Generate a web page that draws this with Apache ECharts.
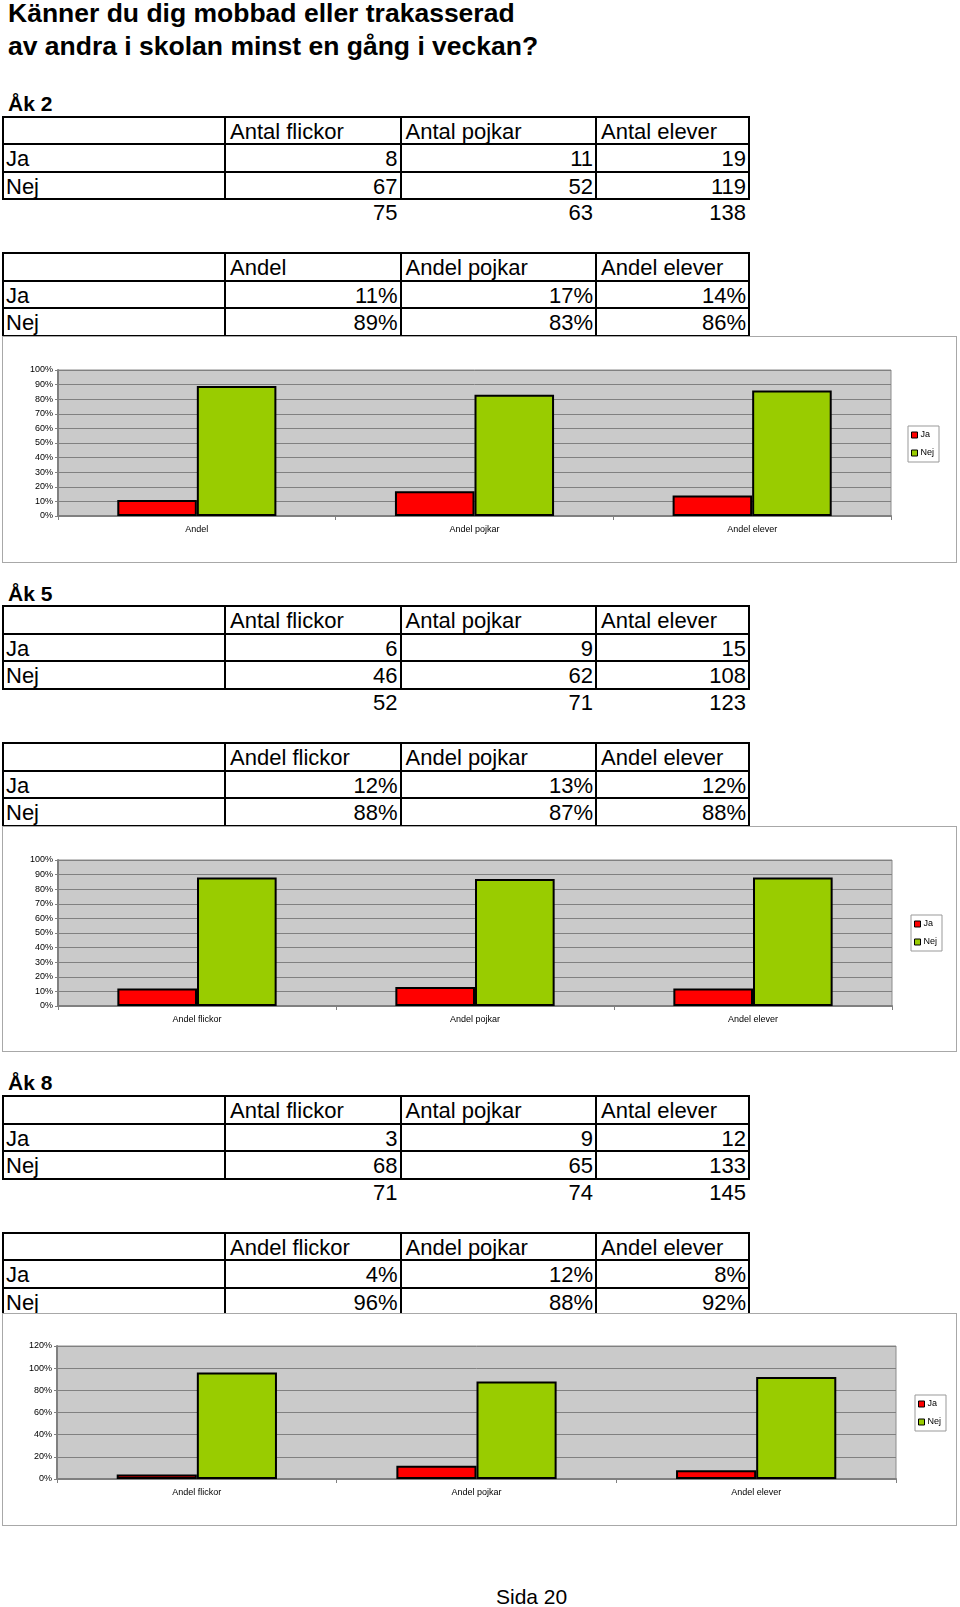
<!DOCTYPE html>
<html>
<head>
<meta charset="utf-8">
<script src="https://cdn.jsdelivr.net/npm/echarts@6/dist/echarts.min.js"></script>
<style>
  html, body { margin: 0; padding: 0; background: #fff; }
  body { width: 960px; height: 1607px; position: relative; overflow: hidden; font-family: 'Liberation Sans', Arial, sans-serif; color: #000; }
  .abs { position: absolute; white-space: nowrap; }
  .title { font-weight: bold; font-size: 26.5px; left: 8px; }
  .grade { font-weight: bold; font-size: 21px; left: 8px; }
  .cell { font-size: 22px; line-height: 27px; }
  .hl { position: absolute; background: #000; height: 2px; }
  .vl { position: absolute; background: #000; width: 2px; }
  .box { position: absolute; border: 1px solid #a8a8a8; box-sizing: border-box; pointer-events: none; }
  .chart { position: absolute; background: #fff; }
</style>
</head>
<body>
<div class="abs title" style="top:-2px;">Känner du dig mobbad eller trakasserad</div>
<div class="abs title" style="top:31px;">av andra i skolan minst en gång i veckan?</div>
<div class="abs" style="left:496px; top:1585px; font-size:21px;">Sida 20</div>
<script>
// ---- data ----
const grades = ['Åk 2', 'Åk 5', 'Åk 8'];
const rowLabels = ['Ja', 'Nej'];
const seriesNames = ['Ja', 'Nej'];
const countHeaders = ['Antal flickor', 'Antal pojkar', 'Antal elever'];
const shareHeadersAk2 = ['Andel', 'Andel pojkar', 'Andel elever'];
const shareHeaders = ['Andel flickor', 'Andel pojkar', 'Andel elever'];

const ak2Ja = [8, 11, 19];
const ak2Nej = [67, 52, 119];
const ak2Total = [75, 63, 138];
const ak2JaPct = [11, 17, 14];
const ak2NejPct = [89, 83, 86];

const ak5Ja = [6, 9, 15];
const ak5Nej = [46, 62, 108];
const ak5Total = [52, 71, 123];
const ak5JaPct = [12, 13, 12];
const ak5NejPct = [88, 87, 88];

const ak8Ja = [3, 9, 12];
const ak8Nej = [68, 65, 133];
const ak8Total = [71, 74, 145];
const ak8JaPct = [4, 12, 8];
const ak8NejPct = [96, 88, 92];

const yMaxes = [100, 100, 120];
const yIntervals = [10, 10, 20];

// ---- layout ----
const sections = [
  { off: 0, headers2: shareHeadersAk2, ja: ak2Ja, nej: ak2Nej, tot: ak2Total, jaP: ak2JaPct, nejP: ak2NejPct,
    chart: { top: 336, h: 227, gridTop: 34, gridH: 146, gridLeft: 56, gridW: 833, legL: 906, legT: 90 } },
  { off: 489.7, headers2: shareHeaders, ja: ak5Ja, nej: ak5Nej, tot: ak5Total, jaP: ak5JaPct, nejP: ak5NejPct,
    chart: { top: 826, h: 226, gridTop: 34, gridH: 146, gridLeft: 56, gridW: 834, legL: 909, legT: 89 } },
  { off: 979.4, headers2: shareHeaders, ja: ak8Ja, nej: ak8Nej, tot: ak8Total, jaP: ak8JaPct, nejP: ak8NejPct,
    chart: { top: 1313, h: 213, gridTop: 33, gridH: 133, gridLeft: 55, gridW: 839, legL: 913, legT: 82 } }
];
const xs = [3, 225, 400.5, 596, 749];
const rowH = 27.5;

function add(cls, style, text) {
  const d = document.createElement('div');
  d.className = cls;
  d.setAttribute('style', style);
  if (text !== undefined) d.textContent = text;
  document.body.appendChild(d);
  return d;
}

function drawTable(top, headers, rows, totals) {
  for (let i = 0; i <= 3; i++) {
    add('hl', `left:${xs[0]-1}px; top:${top + i*rowH - 1}px; width:${xs[4]-xs[0]+2}px;`);
  }
  xs.forEach(x => add('vl', `left:${x-1}px; top:${top-1}px; height:${3*rowH+2}px;`));
  headers.forEach((h, j) => add('abs cell', `left:${xs[j+1]+5}px; top:${top+1}px;`, h));
  rows.forEach((r, i) => {
    const t = top + (i+1)*rowH + 1;
    add('abs cell', `left:${xs[0]+3}px; top:${t}px;`, rowLabels[i]);
    r.forEach((v, j) => add('abs cell', `left:${xs[j+1]}px; width:${xs[j+2]-xs[j+1]-3}px; text-align:right; top:${t}px;`, v));
  });
  if (totals) {
    const t = top + 3*rowH + 0;
    totals.forEach((v, j) => add('abs cell', `left:${xs[j+1]}px; width:${xs[j+2]-xs[j+1]-3}px; text-align:right; top:${t}px;`, v));
  }
}

sections.forEach((s, k) => {
  add('abs grade', `top:${s.off + 92}px;`, grades[k]);
  drawTable(s.off + 116.7, countHeaders, [s.ja, s.nej], s.tot);
  drawTable(s.off + 253.3, s.headers2, [s.jaP.map(v => v + '%'), s.nejP.map(v => v + '%')], null);

  const c = s.chart;
  const div = add('chart', `left:2px; top:${c.top}px; width:955px; height:${c.h}px;`);
  add('box', `left:2px; top:${c.top}px; width:955px; height:${c.h}px;`);
  const chart = echarts.init(div, null, { renderer: 'canvas' });
  const font = 'Liberation Sans';
  chart.setOption({
    animation: false,
    textStyle: { fontFamily: font },
    grid: { left: c.gridLeft, top: c.gridTop, width: c.gridW, height: c.gridH, show: true,
            backgroundColor: '#cacaca', borderColor: '#8c8c8c', borderWidth: 1 },
    legend: {
      orient: 'vertical', left: c.legL, top: c.legT,
      data: seriesNames,
      icon: 'rect', itemWidth: 6, itemHeight: 6, itemGap: 6,
      padding: [3, 5, 3, 3],
      backgroundColor: '#fff', borderColor: '#999', borderWidth: 1,
      itemStyle: { borderColor: '#000', borderWidth: 1 },
      textStyle: { fontSize: 9, color: '#000', fontFamily: font, lineHeight: 12, padding: [0, 0, 0, -2] }
    },
    xAxis: {
      type: 'category', data: s.headers2,
      axisLine: { lineStyle: { color: '#808080', width: 2 } },
      axisTick: { show: true, length: 4, lineStyle: { color: '#808080' } },
      axisLabel: { fontSize: 9, color: '#000', margin: 9, fontFamily: font }
    },
    yAxis: {
      type: 'value', min: 0, max: yMaxes[k], interval: yIntervals[k],
      axisLine: { show: true, lineStyle: { color: '#808080', width: 2 } },
      axisTick: { show: true, length: 3, lineStyle: { color: '#808080' } },
      axisLabel: { formatter: '{value}%', fontSize: 9, color: '#000', margin: 5, fontFamily: font },
      splitLine: { show: true, lineStyle: { color: '#808080', width: 1 } }
    },
    series: [
      { name: seriesNames[0], type: 'bar', data: s.jaP, barGap: '0%', barCategoryGap: '42.7%',
        itemStyle: { color: '#ff0000', borderColor: '#000', borderWidth: 2 } },
      { name: seriesNames[1], type: 'bar', data: s.nejP, barGap: '0%', barCategoryGap: '42.7%',
        itemStyle: { color: '#99cc00', borderColor: '#000', borderWidth: 2 } }
    ]
  });
});
</script>
</body>
</html>
